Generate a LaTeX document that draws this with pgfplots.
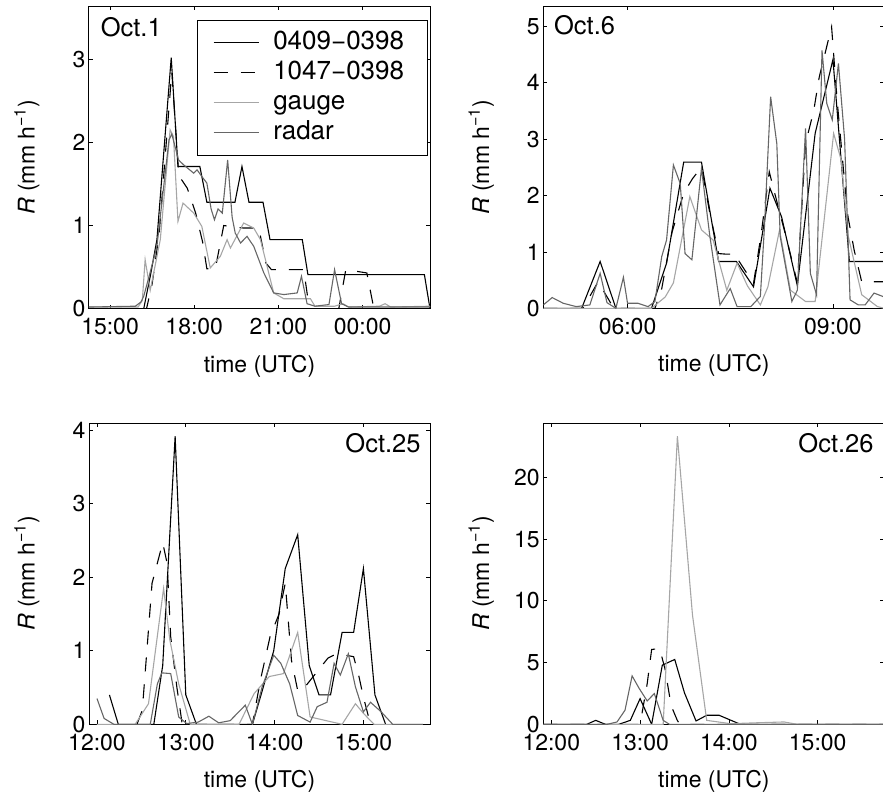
\documentclass[border=0pt]{standalone}
\usepackage{pgfplots}
\pgfplotsset{compat=1.18}
\usepackage{fontspec}
\setmainfont{TeX Gyre Heros}
\newcommand\fA{\fontsize{23}{27}\selectfont}
\newcommand\fB{\fontsize{26}{30}\selectfont}
\newcommand\fC{\fontsize{25.5}{30}\selectfont}
\definecolor{gaugec}{gray}{0.65}
\definecolor{radarc}{gray}{0.4}
\pgfplotsset{
 panel/.style={
  scale only axis, width=341pt, anchor=south west,
  enlargelimits=false, tick align=inside, major tick length=4pt,
  axis line style={line width=1pt},
  every tick/.style={black, line width=0.7pt},
  /pgf/number format/assume math mode=true,
  tick label style={font=\fA}, label style={font=\fA},
  xticklabel style={yshift=-6pt},
  ylabel={\textit{R} (mm h\textsuperscript{−1})},
  xlabel={time (UTC)},
  xlabel style={at={(axis description cs:0.5,-0.19)}, anchor=center},
  ylabel style={at={(axis description cs:-0.182,0.5)}, anchor=center},
  legend image code/.code={\draw[#1] (0pt,0pt) -- (45pt,0pt);},
 },
 s1/.style={black, line width=1.1pt},
 s2/.style={black, line width=1.1pt, dash pattern=on 14pt off 13pt},
 s3/.style={gaugec, line width=1.1pt},
 s4/.style={radarc, line width=1.1pt},
}
\begin{document}
\begin{tikzpicture}
\useasboundingbox (0pt,0pt) rectangle (883pt,-797pt);
% ---------------- Oct 1
\begin{axis}[panel, at={(89pt,-308.7pt)}, height=302.7pt,
  xmin=14.25, xmax=26.4, ymin=0, ymax=3.64,
  xtick={15,18,21,24}, xticklabels={15:00,18:00,21:00,00:00},
  ytick={0,1,2,3},
  legend style={at={(axis description cs:0.993,0.955)}, anchor=north east,
    font=\fB, draw=black, line width=1pt, inner xsep=16pt, inner ysep=10pt,
    row sep=5pt, nodes={inner sep=0pt, text height=19pt, text depth=6pt},
    /tikz/every odd column/.append style={column sep=14pt}},
  legend cell align=left]
\addplot[s1] coordinates {(14.25,0) (16.2,0) (16.45,0.42) (16.67,0.83) (17.18,3.02) (17.42,1.71) (18.2,1.71) (18.45,1.28) (19.45,1.28) (19.7,1.71) (19.95,1.28) (20.45,1.28) (20.7,0.83) (21.85,0.83) (22.05,0.41) (26.2,0.41) (26.4,0)};
\addlegendentry{0409−0398\hspace*{7pt}}
\addplot[s2] coordinates {(14.25,0) (16.3,0) (16.5,0.3) (16.75,0.9) (17.2,2.85) (17.45,1.6) (17.75,1.45) (18.05,1.15) (18.3,0.8) (18.45,0.48) (18.75,0.48) (19.05,1.0) (19.75,0.97) (20.3,0.97) (20.55,0.55) (20.75,0.47) (21.9,0.47) (22.1,0) (23.15,0) (23.4,0.47) (24.15,0.43) (24.4,0) (26.4,0)};
\addlegendentry{1047−0398}
\addplot[s3] coordinates {(14.25,0.02) (16.0,0.02) (16.15,0.1) (16.25,0.59) (16.43,0.22) (16.79,0.83) (17.14,2.15) (17.26,2.07) (17.42,1.05) (17.6,1.27) (17.98,1.15) (18.27,0.99) (18.57,0.49) (18.93,0.63) (19.17,0.83) (19.29,0.73) (19.76,1.03) (20.12,0.97) (20.36,0.83) (20.83,0.19) (21.19,0.12) (22.14,0.12) (22.3,0.03) (23.0,0.03) (23.3,0.06) (23.5,0.02) (24.6,0.03) (24.8,0.06) (25.0,0.02) (26.4,0.03)};
\addlegendentry{gauge}
\addplot[s4] coordinates {(14.25,0.02) (15.9,0.03) (16.1,0.08) (16.2,0.15) (16.4,0.4) (16.67,0.75) (17.1,2.03) (17.2,2.1) (17.44,1.79) (17.62,1.73) (17.98,1.63) (18.1,1.67) (18.27,1.59) (18.45,1.51) (18.6,1.2) (18.72,1.07) (18.85,1.2) (19.0,1.15) (19.19,1.79) (19.35,1.1) (19.46,0.91) (19.65,0.79) (19.88,0.87) (20.12,0.75) (20.48,0.43) (20.83,0.19) (21.19,0.17) (21.67,0.19) (21.82,0.39) (22.02,0.06) (22.3,0.03) (22.8,0.05) (23.0,0.47) (23.25,0.06) (23.5,0.02) (26.4,0.02)};
\addlegendentry{radar}
\node[anchor=base west, inner sep=0pt, font=\fC] at (rel axis cs:0.034,0.899) {Oct.1};
\end{axis}
% ---------------- Oct 6
\begin{axis}[panel, at={(543.3pt,-308.3pt)}, height=301.8pt,
  xmin=4.77, xmax=9.75, ymin=0, ymax=5.35,
  xtick={6,9}, xticklabels={06:00,09:00},
  ytick={0,1,2,3,4,5}]
\addplot[s1] coordinates {(4.77,0) (5.33,0) (5.6,0.83) (5.83,0) (6.35,0) (6.57,0.8) (6.82,2.59) (7.08,2.59) (7.33,0.83) (7.59,0.83) (7.84,0.38) (8.08,2.13) (8.25,1.62) (8.48,0.4) (8.74,3.1) (9.0,4.41) (9.24,0.83) (9.75,0.83)};
\addplot[s2] coordinates {(4.77,0) (5.35,0) (5.57,0.47) (5.8,0) (6.4,0) (6.5,0.35) (6.65,1.35) (6.82,2.04) (6.95,2.3) (7.08,2.5) (7.2,1.7) (7.33,0.97) (7.44,0.96) (7.58,0.96) (7.62,0.85) (7.84,0.44) (7.95,1.3) (8.07,2.42) (8.2,1.8) (8.33,1.2) (8.48,0.45) (8.6,2.92) (8.72,3.51) (8.8,4.1) (8.98,4.99) (9.06,3.7) (9.15,2.5) (9.22,1.62) (9.31,1.03) (9.42,0.47) (9.75,0.47)};
\addplot[s3] coordinates {(4.77,0) (6.35,0) (6.55,0.2) (6.67,0.45) (6.91,1.98) (7.08,1.39) (7.25,1.21) (7.45,0.32) (7.6,0.8) (7.75,0.4) (7.94,0.06) (8.05,0.38) (8.22,1.39) (8.38,0.32) (8.6,0.12) (8.74,0.12) (9.01,3.1) (9.12,2.63) (9.22,1.3) (9.42,0.24) (9.65,0.03) (9.75,0)};
\addplot[s4] coordinates {(4.77,0.06) (4.9,0.19) (5.06,0.09) (5.25,0.03) (5.45,0.06) (5.6,0.62) (5.7,0.1) (5.83,0) (5.94,0.55) (6.0,0.09) (6.15,0.09) (6.3,0.03) (6.4,0.12) (6.5,0.92) (6.57,1.21) (6.67,2.54) (6.77,2.21) (6.84,0.97) (6.94,0.86) (7.08,2.48) (7.2,1.3) (7.35,0.06) (7.5,0.35) (7.6,0.03) (7.8,0.03) (7.94,0.21) (8.0,1.45) (8.09,3.75) (8.18,2.92) (8.23,1.27) (8.4,0.12) (8.48,0.32) (8.6,3.19) (8.67,0.62) (8.76,0.24) (8.84,4.57) (8.91,3.63) (8.99,3.34) (9.08,4.34) (9.17,3.0) (9.25,0.15) (9.37,0.06) (9.47,0.06) (9.6,0.27) (9.75,0.2)};
\node[anchor=base west, inner sep=0pt, font=\fC] at (rel axis cs:0.031,0.906) {Oct.6};
\end{axis}
% ---------------- Oct 25
\begin{axis}[panel, at={(89pt,-724.3pt)}, height=301.3pt,
  xmin=11.91, xmax=15.75, ymin=0, ymax=4.1,
  xtick={12,13,14,15}, xticklabels={12:00,13:00,14:00,15:00},
  ytick={0,1,2,3,4}]
\addplot[s1] coordinates {(12.14,0.4) (12.24,0) (12.64,0) (12.74,0.8) (12.88,3.92) (13.0,0.4) (13.12,0) (13.75,0) (13.84,0.37) (13.99,1.0) (14.12,2.12) (14.26,2.58) (14.39,0.8) (14.5,0.4) (14.63,0.4) (14.76,1.25) (14.89,1.25) (15.0,2.12) (15.13,0.4) (15.25,0)};
\addplot[s2] coordinates {(12.45,0) (12.51,0.19) (12.62,1.92) (12.74,2.47) (12.79,2.19) (12.83,1.19) (12.9,0.5) (12.96,0) (13.75,0) (13.84,0.6) (13.95,1.2) (14.05,1.5) (14.12,1.92) (14.19,0.87) (14.26,0.46) (14.31,0.46) (14.6,0.9) (14.68,0.95) (14.76,0.95) (14.89,0.92) (14.95,0.65) (15.0,0.37) (15.08,0)};
\addplot[s3] coordinates {(12.0,0) (12.43,0) (12.58,0.28) (12.75,1.85) (12.82,1.15) (12.92,0.55) (13.05,0) (13.6,0) (13.77,0.42) (13.94,0.65) (14.1,0.69) (14.26,1.25) (14.4,0.1) (14.76,0) (14.91,0.28) (15.0,0.15) (15.12,0) (15.67,0)};
\addplot[s4] coordinates {(12.0,0.35) (12.08,0.08) (12.19,0) (12.6,0) (12.68,0.55) (12.73,0.7) (12.83,0.69) (12.92,0.1) (13.01,0.01) (13.14,0.03) (13.26,0.11) (13.37,0.02) (13.5,0.05) (13.67,0.26) (13.75,0) (13.86,0.51) (13.99,0.94) (14.07,0.83) (14.17,0.55) (14.26,0.12) (14.4,0.03) (14.48,0.24) (14.59,0.3) (14.67,0.83) (14.74,0.67) (14.83,0.96) (14.91,0.51) (15.0,0.17) (15.08,0.3) (15.2,0.17) (15.33,0) (15.67,0)};
\node[anchor=base east, inner sep=0pt, font=\fC] at (rel axis cs:0.973,0.901) {Oct.25};
\end{axis}
% ---------------- Oct 26
\begin{axis}[panel, at={(543.3pt,-724.3pt)}, height=301.3pt,
  xmin=11.91, xmax=15.75, ymin=0, ymax=24.4,
  xtick={12,13,14,15}, xticklabels={12:00,13:00,14:00,15:00},
  ytick={0,5,10,15,20}]
\addplot[s1] coordinates {(11.91,0) (12.4,0) (12.5,0.32) (12.61,0) (12.76,0) (12.89,0.32) (13.0,2.08) (13.13,0) (13.25,4.79) (13.39,5.25) (13.5,2.54) (13.63,0.27) (13.75,0.73) (13.89,0.73) (14.13,0) (15.75,0)};
\addplot[s2] coordinates {(11.91,0) (13.0,0) (13.08,3.3) (13.13,6.06) (13.22,6.14) (13.28,4.5) (13.35,1.5) (13.42,0.3) (13.45,0) (15.75,0)};
\addplot[s3] coordinates {(11.91,0) (13.26,0) (13.42,23.33) (13.59,8.85) (13.75,0.32) (14.02,0.05) (14.3,0.12) (14.62,0.19) (14.77,0) (15.75,0)};
\addplot[s4] coordinates {(11.91,0) (12.63,0) (12.74,0.19) (12.83,1.14) (12.91,3.92) (12.99,2.9) (13.08,1.89) (13.16,2.49) (13.26,0.32) (13.33,0) (15.75,0)};
\node[anchor=base east, inner sep=0pt, font=\fC] at (rel axis cs:0.969,0.901) {Oct.26};
\end{axis}
\end{tikzpicture}
\end{document}
